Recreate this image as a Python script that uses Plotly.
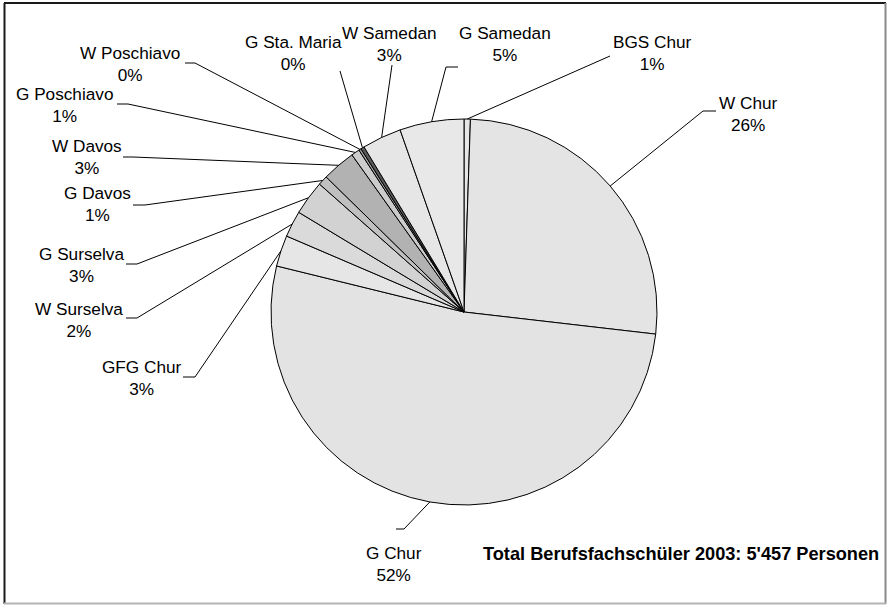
import math
import plotly.graph_objects as go

# Berufsfachschüler 2003 by school, in clockwise order from 12 o'clock
schools = ["BGS Chur", "W Chur", "G Chur", "GFG Chur", "W Surselva", "G Surselva",
           "G Davos", "W Davos", "G Poschiavo", "W Poschiavo", "G Sta. Maria",
           "W Samedan", "G Samedan"]
students = [29, 1435, 2838, 142, 120, 158, 44, 153, 38, 11, 16, 180, 293]
total_label = "Total Berufsfachschüler 2003: 5'457 Personen"

slice_colors = ["#E6E6E6", "#E4E4E4", "#E3E3E3", "#E6E6E6", "#DADADA", "#D2D2D2",
                "#C0C0C0", "#B2B2B2", "#CCCCCC", "#A0A0A0", "#5A5A5A",
                "#E6E6E6", "#E8E8E8"]

W, H = 888, 606
CX, CY, R = 464, 312, 193
FONT = "Liberation Sans, Arial"

# label placement: text centre (x, y), elbow point, end of horizontal stub (pixels)
label_layout = {
    "BGS Chur":     ((652, 53), (610, 56), (610, 56)),
    "W Chur":       ((748, 114), (703, 111), (716, 111)),
    "G Chur":       ((394, 564), (404, 529), (396, 529)),
    "GFG Chur":     ((142, 378), (195, 377), (183, 377)),
    "W Surselva":   ((79, 320), (137, 318), (126, 318)),
    "G Surselva":   ((81, 265), (137, 264), (126, 264)),
    "G Davos":      ((97, 204), (145, 205), (133, 205)),
    "W Davos":      ((87, 157), (133, 157), (123, 157)),
    "G Poschiavo":  ((64, 105), (128, 104), (117, 104)),
    "W Poschiavo":  ((130, 64), (195, 63), (185, 63)),
    "G Sta. Maria": ((293, 53), (340, 71), (340, 71)),
    "W Samedan":    ((389, 44), (392, 65), (392, 65)),
    "G Samedan":    ((505, 44), (446, 67), (458, 67)),
}


def px(x):
    return x / W


def py(y):
    return 1 - y / H


fig = go.Figure(go.Pie(
    labels=schools,
    values=students,
    sort=False,
    direction="clockwise",
    rotation=0,
    textinfo="none",
    hoverinfo="label+value+percent",
    marker=dict(colors=slice_colors, line=dict(color="black", width=1)),
    domain=dict(x=[px(CX - R), px(CX + R)], y=[py(CY + R), py(CY - R)]),
    showlegend=False,
))

shapes = []
annotations = []
total = sum(students)
cum = 0
for name, val in zip(schools, students):
    mid = (cum + val / 2) / total
    cum += val
    ang = 2 * math.pi * mid
    ax, ay = CX + R * math.sin(ang), CY - R * math.cos(ang)
    (tx, ty), (ex, ey), (sx, sy) = label_layout[name]
    path = f"M {px(ax)},{py(ay)} L {px(ex)},{py(ey)} L {px(sx)},{py(sy)}"
    shapes.append(dict(type="path", xref="paper", yref="paper", path=path,
                       line=dict(color="black", width=1)))
    pct = round(100 * val / total)
    annotations.append(dict(x=px(tx), y=py(ty), xref="paper", yref="paper",
                            text=f"{name}<br>{pct}%", showarrow=False,
                            xanchor="center", yanchor="middle", align="center",
                            font=dict(family=FONT, size=17.2, color="black")))

annotations.append(dict(x=px(881), y=py(554), xref="paper", yref="paper",
                        text=f"<b>{total_label}</b>", showarrow=False,
                        xanchor="right", yanchor="middle",
                        font=dict(family=FONT, size=18.2, color="black")))

# chart frame
shapes += [
    dict(type="line", xref="paper", yref="paper", x0=px(4), x1=px(886), y0=py(3), y1=py(3),
         line=dict(color="#1a1a1a", width=2)),
    dict(type="line", xref="paper", yref="paper", x0=px(4.5), x1=px(4.5), y0=py(3), y1=py(604),
         line=dict(color="#1a1a1a", width=2)),
    dict(type="line", xref="paper", yref="paper", x0=px(885.5), x1=px(885.5), y0=py(3), y1=py(604),
         line=dict(color="#8a8a8a", width=2)),
    dict(type="line", xref="paper", yref="paper", x0=px(4), x1=px(886), y0=py(603.5), y1=py(603.5),
         line=dict(color="#b4b4b4", width=2)),
]

fig.update_layout(
    width=W, height=H,
    margin=dict(l=0, r=0, t=0, b=0),
    paper_bgcolor="white",
    plot_bgcolor="white",
    shapes=shapes,
    annotations=annotations,
    font=dict(family=FONT, color="black"),
)

fig.write_html("out.html")
